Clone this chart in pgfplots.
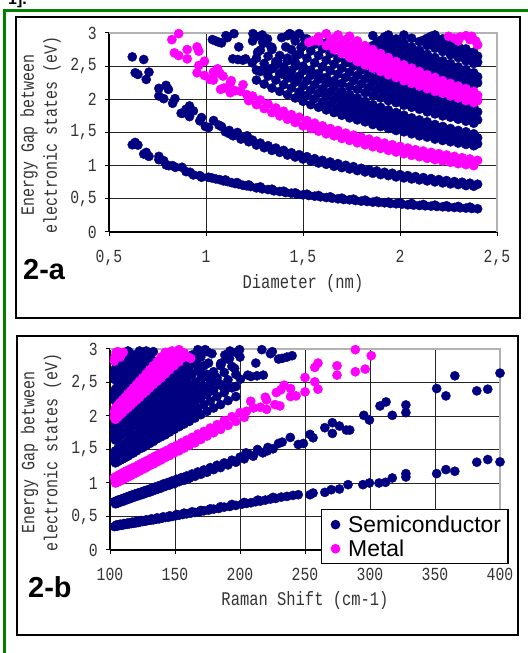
\documentclass[border=0pt]{standalone}
\usepackage{pgfplots}
\usepackage{pgfplotstable}
\pgfplotsset{compat=1.18}
\usepackage{fontspec}
\newfontfamily\cfont[FakeStretch=0.8]{Liberation Mono}
\newfontfamily\sfont{Liberation Sans}
\definecolor{navy}{RGB}{0,0,128}
\definecolor{mag}{RGB}{255,0,255}
\definecolor{grn}{RGB}{0,128,0}

\pgfplotstableread[row sep=\\]{
d E\\
0.620 1.315\\ 0.635 1.350\\ 0.649 1.310\\ 0.679 1.175\\ 0.692 1.200\\ 0.706 1.140\\ 0.757 1.140\\ 0.757 1.090\\ 0.782 1.075\\ 0.795 1.010\\
0.808 1.000\\ 0.828 1.000\\ 0.842 0.975\\ 0.876 0.975\\ 0.897 0.910\\ 0.918 0.900\\ 0.935 0.860\\ 0.968 0.850\\ 0.977 0.825\\ 1.013 0.825\\
1.03 0.815\\ 1.05 0.800\\ 1.07 0.790\\ 1.09 0.770\\ 1.11 0.760\\ 1.13 0.745\\ 1.15 0.730\\ 1.17 0.720\\ 1.19 0.705\\ 1.21 0.695\\
1.23 0.685\\ 1.26 0.665\\ 1.29 0.650\\ 1.32 0.640\\ 1.35 0.620\\ 1.38 0.610\\ 1.41 0.595\\ 1.44 0.585\\ 1.47 0.570\\ 1.50 0.560\\
1.53 0.550\\ 1.56 0.540\\ 1.59 0.530\\ 1.62 0.520\\ 1.65 0.510\\ 1.68 0.500\\ 1.71 0.490\\ 1.74 0.485\\ 1.77 0.475\\ 1.80 0.465\\
1.83 0.460\\ 1.86 0.450\\ 1.89 0.445\\ 1.92 0.440\\ 1.95 0.430\\ 1.98 0.425\\ 2.01 0.420\\ 2.04 0.410\\ 2.07 0.405\\ 2.10 0.400\\
2.13 0.395\\ 2.16 0.390\\ 2.19 0.385\\ 2.22 0.380\\ 2.25 0.375\\ 2.28 0.370\\ 2.31 0.365\\ 2.34 0.360\\ 2.37 0.355\\ 2.40 0.350\\
1.10 0.785\\ 1.16 0.745\\ 1.22 0.710\\ 1.28 0.680\\ 1.34 0.645\\ 1.40 0.615\\ 1.46 0.590\\ 1.52 0.570\\ 1.58 0.550\\ 1.64 0.530\\
1.70 0.510\\ 1.76 0.495\\ 1.82 0.480\\ 1.88 0.465\\ 1.94 0.450\\ 2.00 0.440\\ 2.06 0.430\\ 2.12 0.415\\ 2.18 0.405\\ 2.24 0.395\\
2.30 0.385\\ 2.36 0.375\\
0.620 2.640\\ 0.635 2.400\\ 0.649 2.375\\ 0.679 2.600\\ 0.692 2.300\\ 0.706 2.410\\ 0.757 2.165\\ 0.757 2.050\\ 0.782 2.010\\ 0.794 2.210\\
0.806 2.150\\ 0.828 1.940\\ 0.840 2.010\\ 0.872 1.790\\ 0.880 1.790\\ 0.897 1.850\\ 0.915 1.740\\ 0.915 1.900\\ 0.935 1.825\\ 0.968 1.675\\
0.977 1.725\\ 0.997 1.590\\ 1.013 1.575\\ 1.039 1.680\\ 1.067 1.610\\ 1.122 1.480\\ 1.162 1.500\\ 1.212 1.450\\
1.10 1.51\\ 1.14 1.45\\ 1.18 1.40\\ 1.22 1.36\\ 1.26 1.31\\ 1.30 1.27\\ 1.34 1.23\\ 1.38 1.20\\ 1.42 1.16\\ 1.46 1.13\\
1.50 1.10\\ 1.54 1.07\\ 1.58 1.04\\ 1.62 1.02\\ 1.66 0.99\\ 1.70 0.97\\ 1.74 0.95\\ 1.78 0.925\\ 1.82 0.905\\ 1.86 0.885\\
1.90 0.865\\ 1.94 0.85\\ 1.98 0.83\\ 2.02 0.815\\ 2.06 0.80\\ 2.10 0.785\\ 2.14 0.77\\ 2.18 0.755\\ 2.22 0.74\\ 2.26 0.725\\
2.30 0.715\\ 2.34 0.70\\ 2.38 0.69\\
1.08 1.59\\ 1.12 1.53\\ 1.16 1.48\\ 1.20 1.43\\ 1.24 1.385\\ 1.28 1.34\\ 1.32 1.30\\ 1.36 1.265\\ 1.40 1.23\\ 1.44 1.195\\
1.48 1.165\\ 1.52 1.135\\ 1.56 1.105\\ 1.60 1.08\\ 1.64 1.055\\ 1.68 1.03\\ 1.72 1.005\\ 1.76 0.985\\ 1.80 0.96\\ 1.84 0.94\\
1.88 0.92\\ 1.92 0.90\\ 1.96 0.885\\ 2.00 0.865\\ 2.04 0.85\\ 2.08 0.835\\ 2.12 0.82\\ 2.16 0.805\\ 2.20 0.79\\ 2.24 0.775\\
2.28 0.76\\ 2.32 0.75\\ 2.36 0.735\\ 2.40 0.72\\
1.033 2.90\\ 1.067 2.86\\ 1.103 2.96\\ 1.144 2.99\\ 1.138 2.61\\ 1.164 2.60\\ 1.169 2.79\\ 1.204 2.61\\ 1.238 2.55\\ 1.242 2.99\\
1.266 2.71\\ 1.292 2.86\\ 1.317 2.91\\ 1.335 2.79\\ 1.357 2.51\\ 1.392 2.38\\ 1.411 2.79\\ 1.432 2.99\\ 1.464 2.66\\ 1.508 2.91\\
1.05 2.88\\ 1.08 2.85\\ 1.11 2.93\\ 1.19 2.59\\ 1.24 2.88\\ 1.29 2.97\\ 1.26 2.44\\ 1.30 2.43\\ 1.34 2.47\\ 1.37 2.58\\
1.41 2.43\\ 1.44 2.32\\ 1.47 2.28\\ 1.49 2.07\\ 1.39 2.93\\ 1.44 2.97\\ 1.49 2.78\\ 1.34 2.78\\
1.26 2.29\\ 1.26 2.62\\ 1.26 2.95\\ 1.30 2.23\\ 1.30 2.54\\ 1.30 2.85\\ 1.34 2.17\\ 1.34 2.46\\ 1.34 2.75\\
1.38 2.12\\ 1.38 2.39\\ 1.38 2.66\\ 1.42 2.07\\ 1.42 2.32\\ 1.42 2.58\\ 1.46 2.02\\ 1.46 2.26\\ 1.46 2.50\\
1.50 1.97\\ 1.50 2.20\\ 1.50 2.43\\ 1.54 1.92\\ 1.54 2.14\\ 1.54 2.36\\ 1.58 1.88\\ 1.58 2.09\\ 1.58 2.30\\
1.62 1.84\\ 1.62 2.04\\ 1.62 2.24\\ 1.66 1.80\\ 1.66 1.99\\ 1.66 2.18\\ 1.70 1.76\\ 1.70 1.94\\ 1.70 2.12\\
1.74 1.72\\ 1.74 1.90\\ 1.74 2.07\\ 1.78 1.69\\ 1.78 1.85\\ 1.78 2.02\\ 1.82 1.66\\ 1.82 1.81\\ 1.82 1.97\\
1.86 1.62\\ 1.86 1.77\\ 1.86 1.92\\ 1.90 1.59\\ 1.90 1.74\\ 1.90 1.88\\ 1.94 1.56\\ 1.94 1.70\\ 1.94 1.84\\
1.98 1.53\\ 1.98 1.67\\ 1.98 1.80\\ 2.02 1.51\\ 2.02 1.63\\ 2.02 1.76\\ 2.06 1.48\\ 2.06 1.60\\ 2.06 1.72\\
2.10 1.45\\ 2.10 1.57\\ 2.10 1.69\\ 2.14 1.43\\ 2.14 1.54\\ 2.14 1.66\\ 2.18 1.40\\ 2.18 1.51\\ 2.18 1.62\\
2.22 1.38\\ 2.22 1.49\\ 2.22 1.59\\ 2.26 1.36\\ 2.26 1.46\\ 2.26 1.56\\ 2.30 1.34\\ 2.30 1.44\\ 2.30 1.53\\
2.34 1.32\\ 2.34 1.41\\ 2.34 1.51\\ 2.38 1.30\\ 2.38 1.39\\ 2.38 1.48\\
1.28 2.42\\ 1.28 2.74\\ 1.32 2.35\\ 1.32 2.65\\ 1.36 2.29\\ 1.36 2.57\\ 1.40 2.22\\ 1.40 2.49\\ 1.44 2.17\\ 1.44 2.42\\
1.48 2.11\\ 1.48 2.35\\ 1.52 2.06\\ 1.52 2.28\\ 1.56 2.01\\ 1.56 2.22\\ 1.60 1.96\\ 1.60 2.16\\ 1.64 1.92\\ 1.64 2.11\\
1.68 1.87\\ 1.68 2.06\\ 1.72 1.83\\ 1.72 2.01\\ 1.76 1.79\\ 1.76 1.96\\ 1.80 1.75\\ 1.80 1.91\\ 1.84 1.72\\ 1.84 1.87\\
1.88 1.68\\ 1.88 1.83\\ 1.92 1.65\\ 1.92 1.79\\ 1.96 1.62\\ 1.96 1.75\\ 2.00 1.585\\ 2.00 1.715\\ 2.04 1.555\\ 2.04 1.68\\
2.08 1.53\\ 2.08 1.65\\ 2.12 1.50\\ 2.12 1.615\\ 2.16 1.47\\ 2.16 1.585\\ 2.20 1.45\\ 2.20 1.555\\ 2.24 1.42\\ 2.24 1.525\\
2.28 1.40\\ 2.28 1.50\\ 2.32 1.37\\ 2.32 1.47\\ 2.36 1.35\\ 2.36 1.445\\ 2.40 1.33\\ 2.40 1.42\\
1.42 2.62\\ 1.42 2.96\\ 1.46 2.56\\ 1.46 2.88\\ 1.50 2.50\\ 1.50 2.80\\ 1.54 2.44\\ 1.54 2.73\\ 1.58 2.39\\ 1.58 2.66\\ 1.58 2.93\\
1.62 2.33\\ 1.62 2.59\\ 1.62 2.85\\ 1.66 2.28\\ 1.66 2.53\\ 1.66 2.78\\ 1.70 2.24\\ 1.70 2.47\\ 1.70 2.71\\
1.74 2.19\\ 1.74 2.41\\ 1.74 2.64\\ 1.78 2.15\\ 1.78 2.36\\ 1.78 2.57\\ 1.82 2.10\\ 1.82 2.31\\ 1.82 2.51\\
1.86 2.06\\ 1.86 2.26\\ 1.86 2.46\\ 1.90 2.02\\ 1.90 2.21\\ 1.90 2.40\\ 1.94 1.98\\ 1.94 2.17\\ 1.94 2.35\\
1.98 1.95\\ 1.98 2.12\\ 1.98 2.29\\ 2.02 1.91\\ 2.02 2.08\\ 2.02 2.25\\ 2.06 1.88\\ 2.06 2.04\\ 2.06 2.20\\
2.10 1.85\\ 2.10 2.00\\ 2.10 2.15\\ 2.14 1.81\\ 2.14 1.96\\ 2.14 2.11\\ 2.18 1.78\\ 2.18 1.93\\ 2.18 2.07\\
2.22 1.75\\ 2.22 1.89\\ 2.22 2.03\\ 2.26 1.73\\ 2.26 1.86\\ 2.26 1.99\\ 2.30 1.70\\ 2.30 1.83\\ 2.30 1.96\\
2.34 1.67\\ 2.34 1.80\\ 2.34 1.92\\ 2.38 1.64\\ 2.38 1.77\\ 2.38 1.89\\
1.44 2.75\\ 1.48 2.68\\ 1.48 2.99\\ 1.52 2.62\\ 1.52 2.91\\ 1.56 2.55\\ 1.56 2.83\\ 1.60 2.49\\ 1.60 2.76\\ 1.64 2.43\\ 1.64 2.69\\
1.68 2.38\\ 1.68 2.62\\ 1.72 2.33\\ 1.72 2.56\\ 1.76 2.28\\ 1.76 2.50\\ 1.80 2.23\\ 1.80 2.44\\ 1.84 2.18\\ 1.84 2.38\\
1.88 2.14\\ 1.88 2.33\\ 1.92 2.10\\ 1.92 2.28\\ 1.96 2.05\\ 1.96 2.23\\ 2.00 2.015\\ 2.00 2.185\\ 2.04 1.98\\ 2.04 2.14\\
2.08 1.94\\ 2.08 2.10\\ 2.12 1.91\\ 2.12 2.06\\ 2.16 1.87\\ 2.16 2.02\\ 2.20 1.84\\ 2.20 1.98\\ 2.24 1.81\\ 2.24 1.94\\
2.28 1.78\\ 2.28 1.91\\ 2.32 1.75\\ 2.32 1.87\\ 2.36 1.72\\ 2.36 1.84\\ 2.40 1.69\\ 2.40 1.81\\
1.86 2.81\\ 1.86 2.96\\ 1.90 2.75\\ 1.90 2.89\\ 1.94 2.70\\ 1.94 2.84\\ 1.94 2.97\\ 1.98 2.65\\ 1.98 2.78\\ 1.98 2.91\\
2.02 2.60\\ 2.02 2.72\\ 2.02 2.85\\ 2.06 2.55\\ 2.06 2.67\\ 2.06 2.79\\ 2.10 2.50\\ 2.10 2.62\\ 2.10 2.74\\
2.14 2.46\\ 2.14 2.57\\ 2.14 2.68\\ 2.18 2.41\\ 2.18 2.52\\ 2.18 2.63\\ 2.22 2.37\\ 2.22 2.48\\ 2.22 2.58\\
2.26 2.33\\ 2.26 2.43\\ 2.26 2.54\\ 2.30 2.29\\ 2.30 2.39\\ 2.30 2.49\\ 2.34 2.26\\ 2.34 2.35\\ 2.34 2.45\\
2.38 2.22\\ 2.38 2.31\\ 2.38 2.40\\
1.88 2.85\\ 1.92 2.79\\ 1.92 2.94\\ 1.96 2.74\\ 1.96 2.87\\ 2.00 2.685\\ 2.00 2.815\\ 2.04 2.63\\ 2.04 2.76\\
2.08 2.585\\ 2.08 2.70\\ 2.12 2.54\\ 2.12 2.65\\ 2.16 2.49\\ 2.16 2.60\\ 2.20 2.45\\ 2.20 2.55\\ 2.24 2.40\\ 2.24 2.51\\
2.28 2.36\\ 2.28 2.46\\ 2.32 2.32\\ 2.32 2.42\\ 2.36 2.28\\ 2.36 2.38\\ 2.40 2.25\\ 2.40 2.34\\ 2.02 2.97\\ 2.06 2.92\\
2.10 2.87\\ 2.14 2.81\\ 2.14 2.92\\ 2.18 2.77\\ 2.18 2.87\\ 2.18 2.97\\ 2.22 2.72\\ 2.22 2.82\\ 2.22 2.91\\
2.26 2.67\\ 2.26 2.77\\ 2.26 2.86\\ 2.30 2.63\\ 2.30 2.72\\ 2.30 2.81\\ 2.34 2.58\\ 2.34 2.67\\ 2.34 2.76\\
2.38 2.54\\ 2.38 2.63\\ 2.38 2.71\\ 2.12 2.89\\ 2.16 2.84\\ 2.16 2.95\\ 2.20 2.79\\ 2.20 2.89\\ 2.24 2.74\\ 2.24 2.84\\
2.28 2.69\\ 2.28 2.79\\ 2.32 2.64\\ 2.32 2.75\\ 2.36 2.60\\ 2.36 2.70\\ 2.40 2.56\\ 2.40 2.65\\
}\semi

\pgfplotstableread[row sep=\\]{
d E\\
0.824 2.90\\ 0.837 2.70\\ 0.859 2.99\\ 0.859 2.66\\ 0.903 2.75\\ 0.903 2.61\\ 0.954 2.79\\ 0.954 2.40\\ 0.963 2.725\\ 0.963 2.51\\
0.992 2.575\\ 0.992 2.36\\ 1.020 2.30\\ 1.038 2.29\\ 1.038 2.41\\ 1.060 2.46\\ 1.072 2.39\\ 1.075 2.15\\ 1.088 2.35\\ 1.093 2.17\\
1.125 2.24\\ 1.125 2.10\\ 1.13 2.28\\ 1.15 2.13\\ 1.179 2.12\\ 1.191 2.22\\ 1.210 2.07\\
1.22 1.98\\ 1.26 1.92\\ 1.30 1.86\\ 1.34 1.80\\ 1.38 1.75\\ 1.42 1.70\\ 1.46 1.65\\ 1.50 1.60\\ 1.54 1.56\\ 1.58 1.52\\
1.62 1.48\\ 1.66 1.45\\ 1.70 1.41\\ 1.74 1.38\\ 1.78 1.345\\ 1.82 1.315\\ 1.86 1.285\\ 1.90 1.26\\ 1.94 1.23\\ 1.98 1.205\\
2.02 1.18\\ 2.06 1.155\\ 2.10 1.135\\ 2.14 1.11\\ 2.18 1.09\\ 2.22 1.07\\ 2.26 1.05\\ 2.30 1.03\\ 2.34 1.015\\ 2.38 1.00\\
1.24 2.05\\ 1.28 1.99\\ 1.32 1.93\\ 1.36 1.87\\ 1.40 1.82\\ 1.44 1.77\\ 1.48 1.73\\ 1.52 1.68\\ 1.56 1.64\\ 1.60 1.60\\
1.64 1.56\\ 1.68 1.53\\ 1.72 1.49\\ 1.76 1.46\\ 1.80 1.43\\ 1.84 1.40\\ 1.88 1.37\\ 1.92 1.34\\ 1.96 1.315\\ 2.00 1.29\\
2.04 1.265\\ 2.08 1.24\\ 2.12 1.22\\ 2.16 1.20\\ 2.20 1.18\\ 2.24 1.16\\ 2.28 1.14\\ 2.32 1.12\\ 2.36 1.10\\ 2.40 1.08\\
1.53 2.86\\ 1.55 2.88\\ 1.58 2.94\\ 1.58 2.88\\ 1.62 2.81\\ 1.62 2.99\\ 1.66 2.75\\ 1.66 2.92\\ 1.70 2.69\\ 1.70 2.85\\
1.74 2.63\\ 1.74 2.79\\ 1.74 2.95\\ 1.78 2.57\\ 1.78 2.72\\ 1.78 2.88\\ 1.82 2.52\\ 1.82 2.66\\ 1.82 2.81\\
1.86 2.47\\ 1.86 2.61\\ 1.86 2.75\\ 1.90 2.42\\ 1.90 2.55\\ 1.90 2.69\\ 1.94 2.37\\ 1.94 2.50\\ 1.94 2.63\\
1.98 2.33\\ 1.98 2.45\\ 1.98 2.57\\ 2.02 2.28\\ 2.02 2.40\\ 2.02 2.52\\ 2.06 2.24\\ 2.06 2.35\\ 2.06 2.47\\
2.10 2.20\\ 2.10 2.31\\ 2.10 2.42\\ 2.14 2.16\\ 2.14 2.27\\ 2.14 2.37\\ 2.18 2.12\\ 2.18 2.22\\ 2.18 2.33\\
2.22 2.09\\ 2.22 2.18\\ 2.22 2.28\\ 2.26 2.05\\ 2.26 2.15\\ 2.26 2.24\\ 2.30 2.02\\ 2.30 2.11\\ 2.30 2.20\\
2.34 1.98\\ 2.34 2.07\\ 2.34 2.16\\ 2.38 1.95\\ 2.38 2.04\\ 2.38 2.12\\
1.64 2.87\\ 1.68 2.80\\ 1.68 2.97\\ 1.72 2.74\\ 1.72 2.90\\ 1.76 2.68\\ 1.76 2.83\\ 1.80 2.62\\ 1.80 2.77\\
1.84 2.57\\ 1.84 2.71\\ 1.88 2.51\\ 1.88 2.65\\ 1.92 2.46\\ 1.92 2.59\\ 1.96 2.41\\ 1.96 2.54\\ 2.00 2.365\\ 2.00 2.485\\
2.04 2.32\\ 2.04 2.435\\ 2.08 2.28\\ 2.08 2.39\\ 2.12 2.23\\ 2.12 2.34\\ 2.16 2.19\\ 2.16 2.30\\ 2.20 2.16\\ 2.20 2.25\\
2.24 2.12\\ 2.24 2.21\\ 2.28 2.08\\ 2.28 2.17\\ 2.32 2.05\\ 2.32 2.135\\ 2.36 2.01\\ 2.36 2.10\\ 2.40 1.98\\ 2.40 2.06\\
2.25 2.95\\ 2.28 2.92\\ 2.30 2.88\\ 2.31 2.94\\ 2.34 2.96\\ 2.36 2.90\\ 2.37 2.95\\ 2.39 2.88\\ 2.40 2.82\\
}\metal

\pgfplotsset{kat/.style={
  scale only axis, clip=false,
  axis x line*=bottom, axis y line*=left,
  axis line style={black, line width=1.2bp},
  tick style={black, line width=1bp},
  tick align=outside, major tick length=4bp,
  ymin=0, ymax=3, ytick={0,0.5,1,1.5,2,2.5,3},
  yticklabels={0,{0,5},1,{1,5},2,{2,5},3},
  xmajorgrids, ymajorgrids,
  major grid style={black!85, line width=0.8bp},
  ticklabel style={font=\cfont\fontsize{18.5}{20}\selectfont, text=black!80},
  yticklabel style={inner sep=2bp, xshift=-6bp},
  xticklabel style={inner sep=2bp, yshift=-12bp},
}}

\begin{document}
\begin{tikzpicture}[x=1bp,y=1bp]
\draw[grn, line width=3bp] (4.5,-5) -- (4.5,642.5) -- (535,642.5);
\node[anchor=base west, font=\sfont\bfseries\fontsize{16}{16}\selectfont, inner sep=0] at (8,648) {1].};
\draw[black, line width=1.2bp] (16,335) rectangle (520,636);
\draw[black, line width=1.2bp] (17,18) rectangle (518,317);

\begin{axis}[kat, at={(109bp,421bp)}, anchor=south west, width=388bp, height=199bp,
  xmin=0.5, xmax=2.5, xtick={0.5,1,1.5,2,2.5}, xticklabels={{0,5},1,{1,5},2,{2,5}}]
\draw[gray!60, line width=2bp] (axis cs:0.5,3) -- (axis cs:2.5,3) -- (axis cs:2.5,0);
\addplot[only marks, mark=*, mark size=4.6bp, color=navy, mark options={draw=navy, fill=navy}] table[x=d, y=E] {\semi};
\addplot[only marks, mark=*, mark size=4.6bp, color=mag, mark options={draw=mag, fill=mag}] table[x=d, y=E] {\metal};
\end{axis}

\begin{axis}[kat, at={(110bp,103bp)}, anchor=south west, width=390bp, height=201bp,
  xmin=100, xmax=400, xtick={100,150,200,250,300,350,400}, xticklabels={100,150,200,250,300,350,400},
  legend style={at={(axis description cs:0.54,0.204)}, anchor=north west, draw=black, line width=1.2bp,
    fill=white, font=\sfont\fontsize{23}{24}\selectfont, inner xsep=2bp, inner ysep=4bp, row sep=2bp,
    nodes={inner xsep=5bp, inner ysep=2bp}, cells={anchor=west}},
  legend image code/.code={\path[draw=none] (0bp,0bp) -- (20bp,0bp); \path[#1, draw=none] plot[only marks, mark=*, mark size=4.2bp] coordinates {(12.3bp,0bp)};}]
\draw[gray!60, line width=2bp] (axis cs:100,3) -- (axis cs:400,3) -- (axis cs:400,0);
\addplot[only marks, mark=*, mark size=4.6bp, color=navy, mark options={draw=navy, fill=navy}] table[x expr=248/\thisrow{d}, y=E] {\semi};
\addplot[only marks, mark=*, mark size=4.6bp, color=mag, mark options={draw=mag, fill=mag}] table[x expr=248/\thisrow{d}, y=E] {\metal};
\legend{Semiconductor, Metal}
\end{axis}

\node[rotate=90, align=center, font=\cfont\fontsize{18.8}{23}\selectfont, text=black!80] at (40.5,518) {Energy Gap between\\electronic states (eV)};
\node[rotate=90, align=center, font=\cfont\fontsize{18.8}{23}\selectfont, text=black!80] at (41,200.5) {Energy Gap between\\electronic states (eV)};
\node[anchor=base, font=\cfont\fontsize{19.4}{23}\selectfont, text=black!80] at (303,364) {Diameter (nm)};
\node[anchor=base, font=\cfont\fontsize{19.4}{23}\selectfont, text=black!80] at (305,47) {Raman Shift (cm-1)};
\node[anchor=base west, inner sep=0, font=\sfont\bfseries\fontsize{29}{29}\selectfont] at (23,373) {2-a};
\node[anchor=base west, inner sep=0, font=\sfont\bfseries\fontsize{29}{29}\selectfont] at (28,55) {2-b};
\pgfresetboundingbox
\path[use as bounding box] (0,0) rectangle (528,653);
\end{tikzpicture}
\end{document}
